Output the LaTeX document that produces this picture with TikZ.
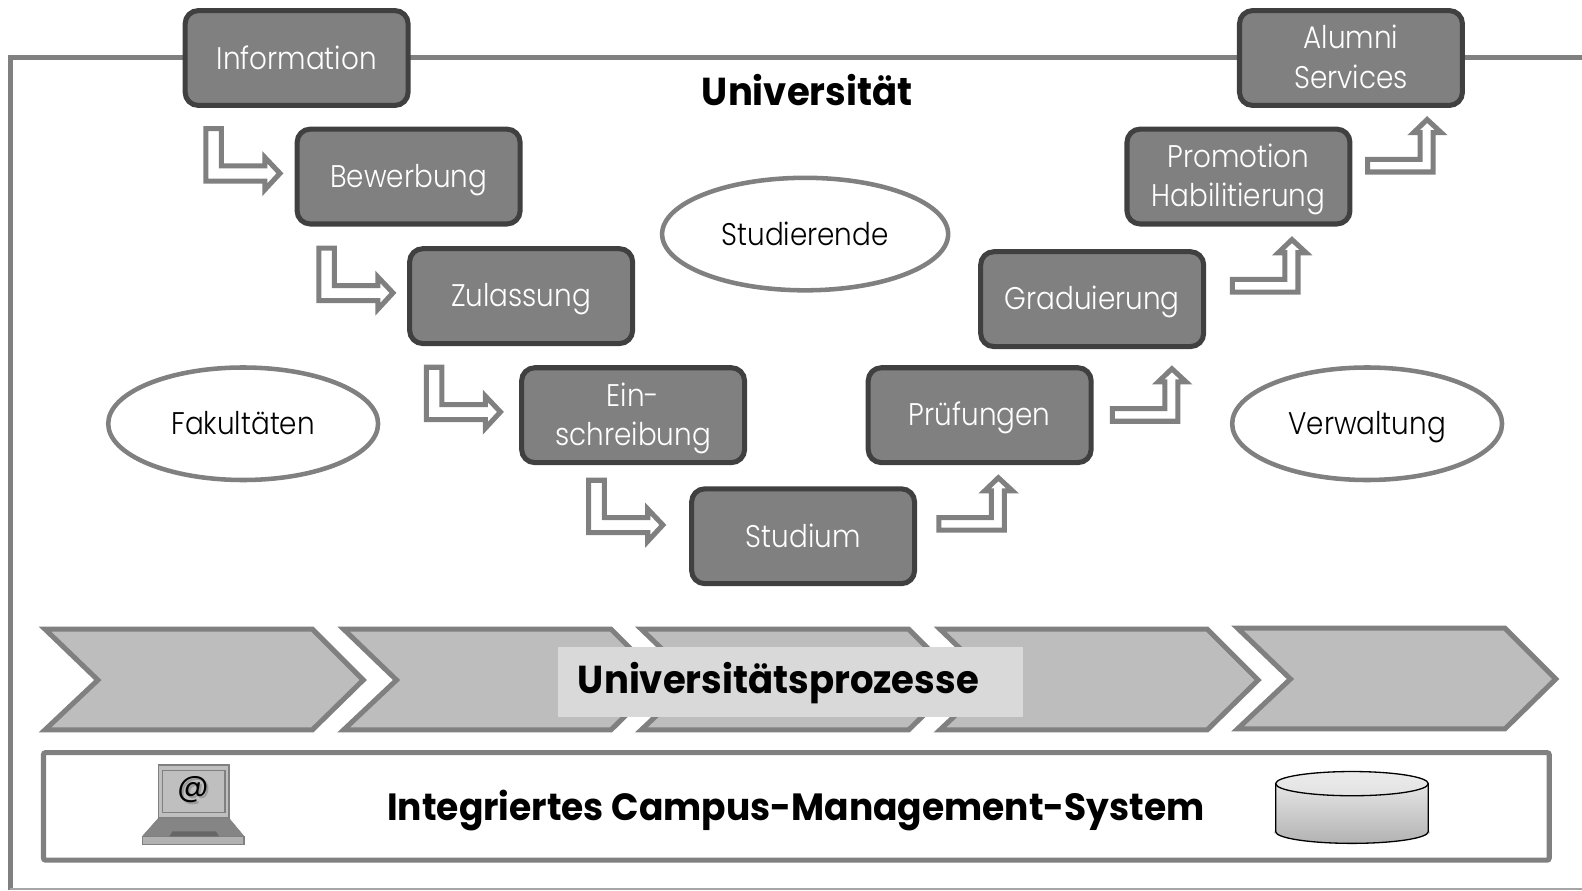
\documentclass[tikz,border=0pt]{standalone}
\usepackage{fontspec}
\setmainfont{Poppins}
\usetikzlibrary{shapes.geometric}
\definecolor{boxfill}{gray}{0.5}
\definecolor{boxline}{gray}{0.25}
\definecolor{frame}{gray}{0.5}
\definecolor{chev}{gray}{0.74}
\newfontfamily\thinf[FakeStretch=0.89]{Poppins Light}
\newfontfamily\boldf[FakeStretch=0.95]{Poppins Bold}
\newcommand{\lft}[2]{\raisebox{-#1pt}[0pt][0pt]{#2}}
\tikzset{
 stepbox/.style={draw=boxline,fill=boxfill,line width=5pt,rounded corners=13pt,minimum width=221pt,minimum height=94pt,text=white,align=center,font=\thinf\fontsize{31}{39}\selectfont,inner sep=0pt},
 oval/.style={draw=frame,fill=white,ellipse,line width=4.5pt,inner sep=0pt,minimum height=111.5pt,font=\thinf\fontsize{31}{39}\selectfont,text=black},
 arrowshape/.style={draw=frame,fill=white,line width=5pt,miter limit=10},
 chevron/.style={draw=frame,fill=chev,line width=5pt,miter limit=10},
 headline/.style={font=\boldf\fontsize{38.6}{44}\selectfont,text=black,inner sep=0pt},
}
\newcommand{\downarrowshape}[2]{%
 \draw[arrowshape,shift={(#1,#2)}] (2.5,2.5)--(18,2.5)--(18,39.5)--(61,39.5)--(61,31)--(76,46.8)--(61,63)--(61,54.5)--(2.5,54.5)--cycle;}
\newcommand{\uparrowshape}[2]{%
 \draw[arrowshape,shift={(#1,#2)}] (2.5,55.5)--(2.5,43)--(54.5,43)--(54.5,16.5)--(48,16.5)--(61.5,3.5)--(75.5,16.5)--(67.5,16.5)--(67.5,55.5)--cycle;}
\newcommand{\chevronshape}[2]{%
 \draw[chevron,shift={(#1,#2)}] (44.5,623.5)--(309.5,623.5)--(360,674)--(309.5,723.5)--(44.5,723.5)--(97,674)--cycle;}
\begin{document}
\begin{tikzpicture}[x=1pt,y=-1pt]
\useasboundingbox (0,0) rectangle (1568,882.15);
\draw[frame,line width=5pt] (10,882.15)--(10,56.8)--(1568,56.8);
\draw[black!35,line width=1.5pt] (10,881)--(1568,881);

\node[headline] (uni) at (800,89) {Universität};

\node[stepbox] (info) at (294,57.5) {\lft{11}{Information}};
\node[stepbox] (bew) at (405,175) {\lft{10.5}{Bewerbung}};
\node[stepbox] (zul) at (516.5,293.5) {\lft{10.5}{Zulassung}};
\node[stepbox] (ein) at (627.5,411.5) {\lft{10.5}{Ein-}\\\lft{10.5}{schreibung}};
\node[stepbox] (stu) at (796,531.5) {\lft{11}{Studium}};
\node[stepbox] (pru) at (971,411.5) {\lft{10.5}{Prüfungen}};
\node[stepbox] (gra) at (1082.5,296.5) {\lft{10.5}{Graduierung}};
\node[stepbox] (pro) at (1227.5,175) {\lft{10.5}{Promotion}\\\lft{10.5}{Habilitierung}};
\node[stepbox] (alu) at (1339,57.5) {\lft{10.5}{Alumni}\\\lft{10.5}{Services}};

\node[oval,minimum width=283.5pt] (studi) at (798,232) {\lft{11}{Studierende}};
\node[oval,minimum width=267.5pt] (fak) at (241,420) {\lft{10.5}{Fakultäten}};
\node[oval,minimum width=267.5pt] (ver) at (1355,420) {\lft{10.5}{Verwaltung}};

\downarrowshape{201.5}{125}
\downarrowshape{313.5}{243.5}
\downarrowshape{420}{361.5}
\downarrowshape{581}{473.5}
\uparrowshape{928}{470}
\uparrowshape{1100}{362}
\uparrowshape{1219}{234}
\uparrowshape{1353}{115}

\chevronshape{0}{0}
\chevronshape{296}{0}
\chevronshape{591}{0}
\chevronshape{887}{0}
\chevronshape{1182}{-1}

\node[fill=black!15,minimum width=461pt,minimum height=70pt,inner sep=0pt] (procbg) at (783.5,676) {};
\node[headline] (proc) at (771.5,677) {Universitätsprozesse};

\node[draw=frame,line width=5pt,rounded corners=2pt,fill=white,minimum width=1492.4pt,minimum height=106.5pt,inner sep=0pt] (cms) at (789.3,799.25) {};
\node[headline,font=\boldf\fontsize{37.6}{44}\selectfont] (cmst) at (789,803) {Integriertes Campus-Management-System};

% laptop
\draw[black!50,fill=black!25,line width=1.5pt] (157,758) rectangle (227,811);
\draw[black!50,fill=black!25,line width=1.5pt] (161,763.5) rectangle (223,805.5);
\node[inner sep=0pt,font=\fontsize{31}{31}\selectfont,text=black!50,opacity=.6] (atshadow) at (193.5,784.5) {@};
\node[inner sep=0pt,font=\fontsize{31}{31}\selectfont,text=black] (at) at (192,783) {@};
\draw[black!50,fill=black!48] (157,811)--(227,811)--(242,829)--(141,829)--cycle;
\draw[black!50,fill=black!30,line width=1.5pt] (141,829) rectangle (242,837);
\fill[black!60] (168,829)--(171,824)--(214,824)--(217,829)--cycle;

% cylinder
\foreach \d/\o in {5/.08,3.5/.12,2/.18}{
 \fill[black,opacity=\o] (1264.4-\d/2,826) arc[start angle=180,end angle=360,x radius=75.6+\d/2,y radius=11.6+\d] -- cycle;}
\shade[top color=black!10,bottom color=black!30,draw=black,line width=1.3pt] (1264.4,776.7) -- (1264.4,824.3) arc[start angle=180,end angle=360,x radius=75.6pt,y radius=11.6pt] -- (1415.6,776.7) -- cycle;
\draw[black,top color=black!8,bottom color=black!11,line width=1.3pt] (1340,776.7) ellipse[x radius=75.6pt,y radius=12pt];
\end{tikzpicture}
\end{document}
